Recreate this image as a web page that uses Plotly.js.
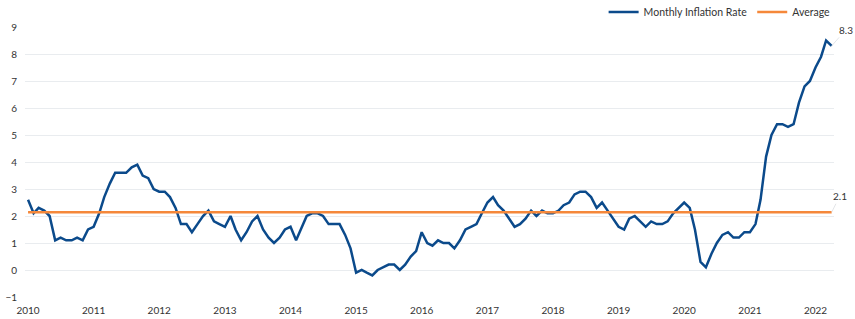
<!DOCTYPE html>
<html>
<head>
<meta charset="utf-8">
<script src="https://cdn.plot.ly/plotly-3.0.1.min.js"></script>
<style>
html,body{margin:0;padding:0;background:#fff;}
#chart{width:855px;height:319px;}
</style>
</head>
<body>
<div id="chart"></div>
<script>
// Monthly inflation rate (%), January 2010 - April 2022
const years = [2010,2011,2012,2013,2014,2015,2016,2017,2018,2019,2020,2021,2022];
const rate2010 = [2.6,2.1,2.3,2.2,2.0,1.1,1.2,1.1,1.1,1.2,1.1,1.5];
const rate2011 = [1.6,2.1,2.7,3.2,3.6,3.6,3.6,3.8,3.9,3.5,3.4,3.0];
const rate2012 = [2.9,2.9,2.7,2.3,1.7,1.7,1.4,1.7,2.0,2.2,1.8,1.7];
const rate2013 = [1.6,2.0,1.5,1.1,1.4,1.8,2.0,1.5,1.2,1.0,1.2,1.5];
const rate2014 = [1.6,1.1,1.5,2.0,2.1,2.1,2.0,1.7,1.7,1.7,1.3,0.8];
const rate2015 = [-0.1,0.0,-0.1,-0.2,0.0,0.1,0.2,0.2,0.0,0.2,0.5,0.7];
const rate2016 = [1.4,1.0,0.9,1.1,1.0,1.0,0.8,1.1,1.5,1.6,1.7,2.1];
const rate2017 = [2.5,2.7,2.4,2.2,1.9,1.6,1.7,1.9,2.2,2.0,2.2,2.1];
const rate2018 = [2.1,2.2,2.4,2.5,2.8,2.9,2.9,2.7,2.3,2.5,2.2,1.9];
const rate2019 = [1.6,1.5,1.9,2.0,1.8,1.6,1.8,1.7,1.7,1.8,2.1,2.3];
const rate2020 = [2.5,2.3,1.5,0.3,0.1,0.6,1.0,1.3,1.4,1.2,1.2,1.4];
const rate2021 = [1.4,1.7,2.6,4.2,5.0,5.4,5.4,5.3,5.4,6.2,6.8,7.0];
const rate2022 = [7.5,7.9,8.5,8.3];
const yTicks = [-1,0,1,2,3,4,5,6,7,8,9];

const byYear = [rate2010,rate2011,rate2012,rate2013,rate2014,rate2015,rate2016,
                rate2017,rate2018,rate2019,rate2020,rate2021,rate2022];
const dates = [], values = [];
byYear.forEach((arr, i) => {
  arr.forEach((v, m) => {
    dates.push(years[i] + '-' + String(m + 1).padStart(2, '0') + '-01');
    values.push(v);
  });
});
const avg = values.reduce((a, b) => a + b, 0) / values.length;
const firstDate = dates[0], lastDate = dates[dates.length - 1];
const lastVal = values[values.length - 1];

const blue = '#0b4a8b';
const orange = '#f5883a';
const font = 'Lato, "Open Sans", sans-serif';

const traces = [
  {x: dates, y: values, type: 'scatter', mode: 'lines', name: 'Monthly Inflation Rate',
   line: {color: blue, width: 2.5}, hoverinfo: 'skip'},
  {x: [firstDate, lastDate], y: [avg, avg], type: 'scatter', mode: 'lines', name: 'Average',
   line: {color: orange, width: 2.5}, hoverinfo: 'skip'}
];

const layout = {
  width: 855, height: 319,
  margin: {l: 25, r: 21, t: 27, b: 22, pad: 0, autoexpand: false},
  paper_bgcolor: '#fff', plot_bgcolor: '#fff',
  font: {family: font, size: 10, color: '#333'},
  showlegend: true,
  legend: {orientation: 'h', x: 1.002, xanchor: 'right', y: 1.056, yanchor: 'middle',
           font: {family: font, size: 10.5, color: '#333'}, itemwidth: 30,
           traceorder: 'normal', bgcolor: 'rgba(0,0,0,0)'},
  xaxis: {type: 'date', range: ['2009-12-15', '2022-04-14'],
          tick0: '2010-01-01', dtick: 'M12', tickformat: '%Y',
          showgrid: false, zeroline: false, showline: false, ticks: '',
          ticklabelstandoff: 6,
          tickfont: {family: font, size: 10, color: '#333'}, fixedrange: true},
  yaxis: {range: [-1, 9], tickvals: yTicks, showgrid: true, gridcolor: '#e9ecef', gridwidth: 1,
          zeroline: false, showline: false, ticks: '', ticklabelstandoff: 7,
          tickfont: {family: font, size: 10, color: '#333'}, fixedrange: true},
  annotations: [
    {x: lastDate, y: lastVal, xref: 'x', yref: 'y', text: lastVal.toFixed(1),
     showarrow: true, arrowhead: 0, arrowwidth: 0.6, arrowcolor: '#d0d4d8',
     ax: 14, ay: -16, font: {family: font, size: 10, color: '#333'}},
    {x: lastDate, y: avg, xref: 'x', yref: 'y', text: avg.toFixed(1),
     showarrow: true, arrowhead: 0, arrowwidth: 0.6, arrowcolor: '#d0d4d8',
     ax: 8, ay: -16, font: {family: font, size: 10, color: '#333'}}
  ],
  hovermode: false
};

Plotly.newPlot('chart', traces, layout, {displayModeBar: false, staticPlot: true});
</script>
</body>
</html>
